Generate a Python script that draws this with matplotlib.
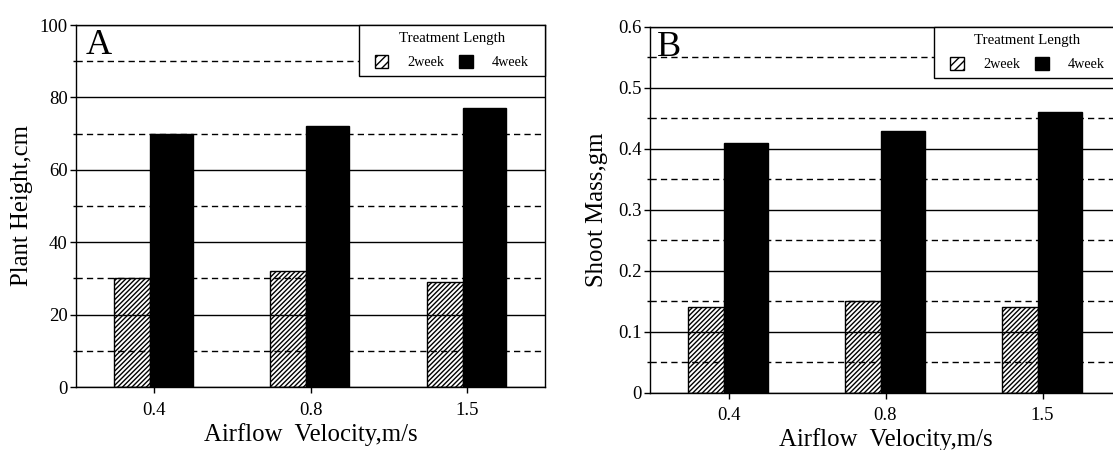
import matplotlib
matplotlib.use("Agg")
import matplotlib.pyplot as plt
import numpy as np
from matplotlib.patches import Patch, Rectangle

plt.rcParams['font.family'] = ['Liberation Serif', 'DejaVu Serif']
plt.rcParams['hatch.linewidth'] = 1.0

velocity = ['0.4', '0.8', '1.5']
height_2wk = [30, 32, 29]
height_4wk = [70, 72, 77]
mass_2wk = [0.14, 0.15, 0.14]
mass_4wk = [0.41, 0.43, 0.46]

fig = plt.figure(figsize=(11.13, 4.5), dpi=100)
axA = fig.add_axes([76 / 1113, 1 - 387 / 450, 469 / 1113, 362 / 450])
axB = fig.add_axes([650 / 1113, 1 - 392.5 / 450, 471 / 1113, 365.5 / 450])


def draw(ax, v2, v4, ymax, major, ylabel, letter, lpad, lx, ly):
    x = np.arange(len(velocity))
    w2, w4 = 0.23, 0.275
    off = -0.026
    ax.set_axisbelow(True)
    ax.bar(x + off - w2 / 2, v2, w2, facecolor='none', edgecolor='black',
           hatch='///////', linewidth=1.0)
    ax.bar(x + off + w4 / 2, v4, w4, color='black', edgecolor='black')
    ax.set_xlim(-0.5, 2.5)
    ax.set_ylim(0, ymax)
    ax.set_yticks(np.arange(0, ymax + major / 2, major))
    ax.set_yticks(np.arange(major / 2, ymax, major), minor=True)
    ax.yaxis.set_major_formatter(plt.FuncFormatter(lambda v, p: ('%g' % v)))
    ax.grid(axis='y', which='major', color='black', linewidth=1.0)
    ax.grid(axis='y', which='minor', color='black', linewidth=1.0,
            linestyle=(0, (4.5, 3)))
    ax.set_xticks(x)
    ax.set_xticklabels(velocity)
    ax.tick_params(axis='both', which='both', direction='out', width=1.0,
                   labelsize=13.5)
    ax.tick_params(axis='x', length=4.5, pad=6)
    ax.tick_params(axis='y', which='major', length=4, pad=2)
    ax.tick_params(axis='y', which='minor', length=2.5)
    for s in ax.spines.values():
        s.set_linewidth(1.0)
    ax.set_ylabel(ylabel, fontsize=17.8, labelpad=lpad)
    ax.set_xlabel('Airflow  Velocity,m/s', fontsize=17.8, labelpad=3)
    ax.text(lx, ly, letter, transform=ax.transAxes, fontsize=26,
            va='top', ha='left')

    # legend box reaching the right spine
    x0, y0 = 0.603, 0.86
    ax.add_patch(Rectangle((x0, y0), 1 - x0, 1 - y0, transform=ax.transAxes,
                           facecolor='white', edgecolor='black',
                           linewidth=1.0, zorder=4, clip_on=False))
    handles = [Patch(facecolor='white', edgecolor='black', hatch='////'),
               Patch(facecolor='black', edgecolor='black')]
    ax.legend(handles, ['2week', '4week'], title='Treatment Length',
              ncol=2, loc='upper center', bbox_to_anchor=((x0 + 1) / 2, 1.0),
              borderaxespad=0, frameon=False, fontsize=10.3,
              title_fontsize=10.7, handlelength=0.95, handleheight=1.0,
              columnspacing=1.05, handletextpad=1.33, borderpad=0.5,
              labelspacing=0.7)


draw(axA, height_2wk, height_4wk, 100, 20, 'Plant Height,cm', 'A', 5,
     0.021, 0.988)
draw(axB, mass_2wk, mass_4wk, 0.6, 0.1, 'Shoot Mass,gm', 'B', 7,
     0.014, 0.99)

fig.savefig('out.png', dpi=100)
